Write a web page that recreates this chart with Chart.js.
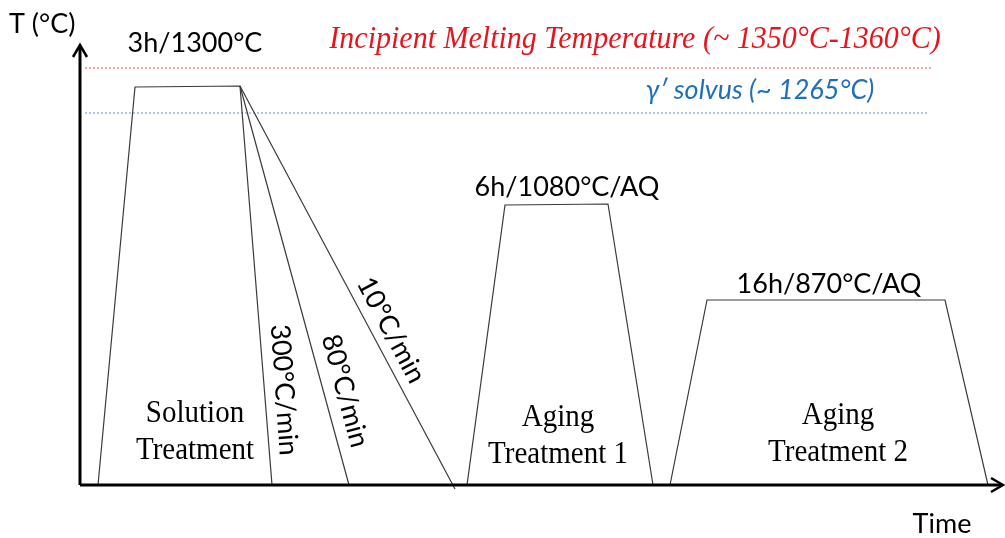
<!DOCTYPE html>
<html>
<head>
<meta charset="utf-8">
<script src="https://cdn.jsdelivr.net/npm/chart.js@4.4.1/dist/chart.umd.min.js"></script>
<style>
  html, body { margin: 0; padding: 0; background: #fff; }
  #wrap { width: 1005px; height: 538px; }
</style>
</head>
<body>
<div id="wrap"><canvas id="heatChart" width="1005" height="538"></canvas></div>
<script>
// schematic units: time (arbitrary) and height above the axis (arbitrary)
const solutionTime = [18, 55, 160, 192];
const solutionTemp = [0, 398, 399, 0];
const cool80Time = [160, 269];
const cool80Temp = [399, 0];
const cool10Time = [160, 375];
const cool10Temp = [399, -4];
const aging1Time = [387, 425, 528, 573];
const aging1Temp = [0, 280, 281, 0];
const aging2Time = [590, 627, 865, 908];
const aging2Temp = [0, 185, 185, 0];
const meltTime = [5, 852];
const meltTemp = [417, 417];
const solvusTime = [5, 848];
const solvusTemp = [372, 372];

function pts(xs, ys) {
    return xs.map((x, i) => ({ x: x, y: ys[i] }));
}

function lineSet(label, xs, ys, color, dash) {
    return {
        label: label,
        data: pts(xs, ys),
        showLine: true,
        borderColor: color,
        borderWidth: 1.2,
        borderDash: dash || [],
        pointRadius: 0,
        fill: false,
        clip: false
    };
}

// tall text, like the stretched labels of the original figure
function tallText(ctx, txt, x, y, sy) {
    ctx.save();
    ctx.translate(x, y);
    ctx.scale(1, sy);
    ctx.fillText(txt, 0, 0);
    ctx.restore();
}

// ===== axes with arrow heads + annotation text =====
const decorPlugin = {
    id: "decor",
    afterDraw(chart) {
        const ctx = chart.ctx;
        const a = chart.chartArea;
        ctx.save();
        ctx.strokeStyle = "#000";
        ctx.lineWidth = 3;
        ctx.beginPath();
        ctx.moveTo(a.left, a.bottom);
        ctx.lineTo(a.left, a.top + 2);
        ctx.moveTo(a.left, a.bottom);
        ctx.lineTo(a.right - 2, a.bottom);
        ctx.stroke();
        ctx.lineWidth = 2.5;
        ctx.beginPath();
        ctx.moveTo(a.left - 7, a.top + 12);
        ctx.lineTo(a.left, a.top);
        ctx.lineTo(a.left + 7, a.top + 12);
        ctx.moveTo(a.right - 12, a.bottom - 7);
        ctx.lineTo(a.right, a.bottom);
        ctx.lineTo(a.right - 12, a.bottom + 7);
        ctx.stroke();

        ctx.fillStyle = "#000";
        ctx.textBaseline = "middle";
        ctx.textAlign = "left";
        const sans = "Lato, 'Open Sans', sans-serif";
        const serif = "'Liberation Serif', 'DejaVu Serif', serif";

        ctx.font = "27px " + sans;
        ctx.fillText("T (°C)", 9, 24);
        ctx.textAlign = "center";
        ctx.fillText("3h/1300°C", 195, 43);
        ctx.fillText("6h/1080°C/AQ", 567, 187);
        ctx.fillText("16h/870°C/AQ", 829, 284);
        ctx.fillText("Time", 942, 524);

        ctx.fillStyle = "#e8141b";
        ctx.font = "italic 30px " + serif;
        tallText(ctx, "Incipient Melting Temperature (~ 1350°C-1360°C)", 635, 39, 1.08);

        ctx.fillStyle = "#1f6fbf";
        ctx.font = "italic 27px " + sans;
        ctx.fillText("\u03B3\u2032 solvus (~ 1265°C)", 760, 90);

        ctx.fillStyle = "#000";
        ctx.font = "29px " + serif;
        tallText(ctx, "Solution", 195, 414, 1.1);
        tallText(ctx, "Treatment", 195, 451, 1.1);
        tallText(ctx, "Aging", 558, 418, 1.1);
        tallText(ctx, "Treatment 1", 558, 455, 1.1);
        tallText(ctx, "Aging", 838, 416, 1.1);
        tallText(ctx, "Treatment 2", 838, 453, 1.1);

        ctx.font = "27px " + sans;
        const rot = [
            ["300°C/min", 284, 390, 86],
            ["80°C/min", 345, 391, 75],
            ["10°C/min", 391, 330, 62]
        ];
        rot.forEach(r => {
            ctx.save();
            ctx.translate(r[1], r[2]);
            ctx.rotate(r[3] * Math.PI / 180);
            ctx.fillText(r[0], 0, 0);
            ctx.restore();
        });
        ctx.restore();
    }
};

const lineColor = "#3a3a3a";
new Chart(document.getElementById("heatChart").getContext("2d"), {
    type: "scatter",
    data: {
        datasets: [
            lineSet("Solution treatment / 300°C/min", solutionTime, solutionTemp, lineColor),
            lineSet("80°C/min", cool80Time, cool80Temp, lineColor),
            lineSet("10°C/min", cool10Time, cool10Temp, lineColor),
            lineSet("Aging treatment 1", aging1Time, aging1Temp, lineColor),
            lineSet("Aging treatment 2", aging2Time, aging2Temp, lineColor),
            lineSet("Incipient melting", meltTime, meltTemp, "#ec6a6a", [2, 2]),
            lineSet("gamma prime solvus", solvusTime, solvusTemp, "#7aa6d6", [2, 2])
        ]
    },
    options: {
        responsive: false,
        animation: false,
        layout: { padding: { left: 80, right: 2, top: 45, bottom: 53 } },
        plugins: { legend: { display: false }, tooltip: { enabled: false } },
        scales: {
            x: { type: "linear", display: false, min: 0, max: 923 },
            y: { type: "linear", display: false, min: 0, max: 440 }
        }
    },
    plugins: [decorPlugin]
});
</script>
</body>
</html>
